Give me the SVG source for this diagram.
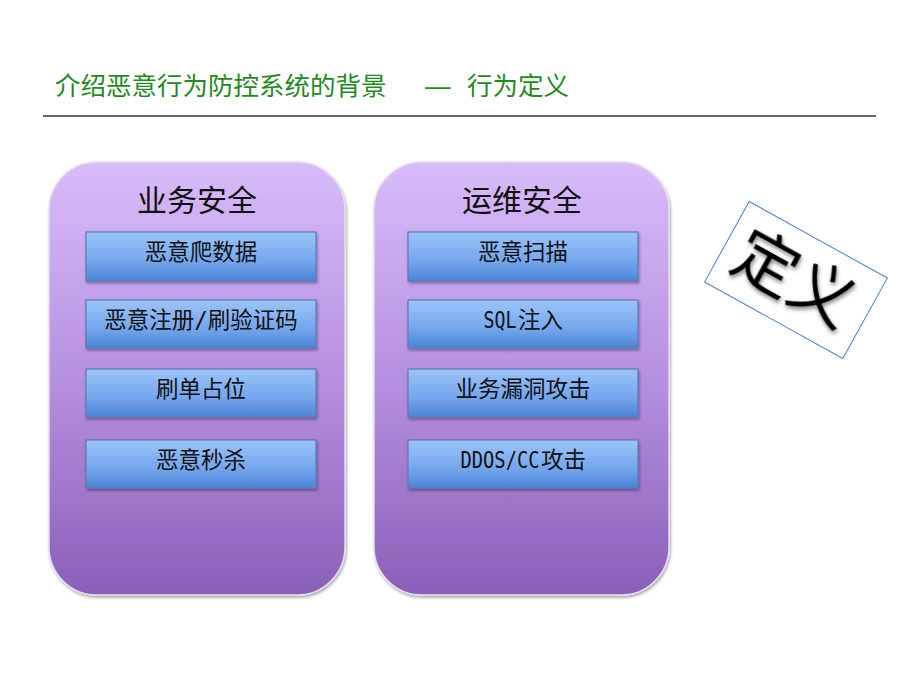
<svg xmlns="http://www.w3.org/2000/svg" width="920" height="690" viewBox="0 0 920 690">
<defs>
<linearGradient id="panel" x1="0" y1="0" x2="0" y2="1">
<stop offset="0" stop-color="#d8bcfa"/>
<stop offset="0.5" stop-color="#b690e0"/>
<stop offset="1" stop-color="#8a5fb8"/>
</linearGradient>
<linearGradient id="box" x1="0" y1="0" x2="0" y2="1">
<stop offset="0" stop-color="#9cc4fa"/>
<stop offset="0.6" stop-color="#74a6ec"/>
<stop offset="1" stop-color="#4a84d6"/>
</linearGradient>
<filter id="sh" x="-10%" y="-10%" width="130%" height="140%">
<feGaussianBlur in="SourceAlpha" stdDeviation="1.5"/>
<feOffset dx="1" dy="2" result="b"/>
<feComponentTransfer><feFuncA type="linear" slope="0.35"/></feComponentTransfer>
<feMerge><feMergeNode/><feMergeNode in="SourceGraphic"/></feMerge>
</filter>
<filter id="tsh" x="-20%" y="-20%" width="140%" height="140%">
<feGaussianBlur in="SourceAlpha" stdDeviation="2"/>
<feOffset dx="2" dy="2"/>
<feComponentTransfer><feFuncA type="linear" slope="0.5"/></feComponentTransfer>
<feMerge><feMergeNode/><feMergeNode in="SourceGraphic"/></feMerge>
</filter>
</defs>
<style>
.ttl{font-family:"Liberation Sans","Noto Sans CJK SC",sans-serif;font-size:25.5px;fill:#1f8a1f}
.hd{font-family:"Liberation Sans","Noto Sans CJK SC",sans-serif;font-size:30px;fill:#111;text-anchor:middle}
.bx{fill:url(#box);stroke:#5b7bb4;stroke-width:1.2}
.bt{font-family:"DejaVu Sans Mono","Noto Sans CJK SC",sans-serif;font-size:22.5px;fill:#111;text-anchor:middle}
.bl{font-family:"DejaVu Sans Mono","Noto Sans CJK SC",sans-serif;font-size:22.5px;fill:#111}
.pn{fill:url(#panel);stroke:#e6dcef;stroke-width:1.5}
</style>
<rect width="920" height="690" fill="#fff"/>
<g id="title">
<text class="ttl" x="55" y="95">介绍恶意行为防控系统的背景</text>
<text class="ttl" x="425" y="95">—</text>
<text class="ttl" x="467" y="95">行为定义</text>
<line x1="43" y1="116" x2="876" y2="116" stroke="#333" stroke-width="1.5"/>
</g>
<g id="panel-business">
<rect class="pn" x="49" y="162" width="296" height="433" rx="48" ry="48" filter="url(#sh)"/>
<text class="hd" x="197" y="211">业务安全</text>
</g>
<g id="b1"><rect class="bx" x="86" y="232" width="230" height="49" filter="url(#sh)"/><text class="bt" x="201" y="260">恶意爬数据</text></g>
<g id="b2"><rect class="bx" x="86" y="300" width="230" height="48" filter="url(#sh)"/><text class="bt" x="201" y="328">恶意注册/刷验证码</text></g>
<g id="b3"><rect class="bx" x="86" y="369" width="230" height="48" filter="url(#sh)"/><text class="bt" x="201" y="397">刷单占位</text></g>
<g id="b4"><rect class="bx" x="86" y="440" width="230" height="48" filter="url(#sh)"/><text class="bt" x="201" y="468">恶意秒杀</text></g>
<g id="panel-ops">
<rect class="pn" x="374" y="162" width="295" height="433" rx="48" ry="48" filter="url(#sh)"/>
<text class="hd" x="522" y="211">运维安全</text>
</g>
<g id="o1"><rect class="bx" x="408" y="232" width="230" height="49" filter="url(#sh)"/><text class="bt" x="523" y="260">恶意扫描</text></g>
<g id="o2"><rect class="bx" x="408" y="300" width="230" height="48" filter="url(#sh)"/><text class="bl" x="483.5" y="328" textLength="33" lengthAdjust="spacingAndGlyphs">SQL</text><text class="bl" x="518" y="328">注入</text></g>
<g id="o3"><rect class="bx" x="408" y="369" width="230" height="48" filter="url(#sh)"/><text class="bt" x="523" y="397">业务漏洞攻击</text></g>
<g id="o4"><rect class="bx" x="408" y="440" width="230" height="48" filter="url(#sh)"/><text class="bl" x="460.5" y="468" textLength="79" lengthAdjust="spacingAndGlyphs">DDOS/CC</text><text class="bl" x="541" y="468">攻击</text></g>
<g id="define" transform="translate(796,280) rotate(29)">
<rect x="-79" y="-46" width="158" height="92" fill="#fff" stroke="#4f81c8" stroke-width="1"/>
<text x="-2" y="22" font-family="Liberation Sans,Noto Sans CJK SC,sans-serif" font-size="64" fill="#000" text-anchor="middle" filter="url(#tsh)">定义</text>
</g>
</svg>
